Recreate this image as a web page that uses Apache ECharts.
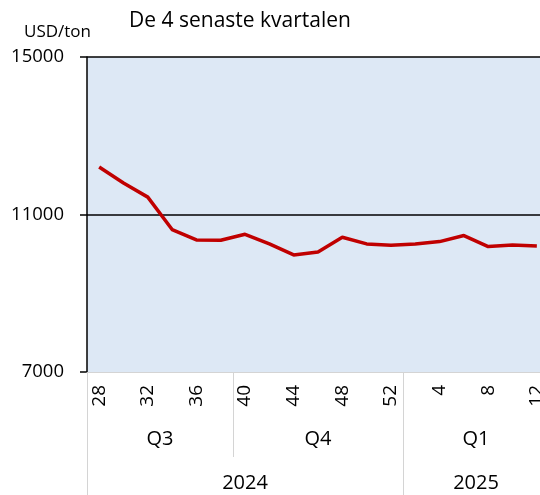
<!DOCTYPE html>
<html><head><meta charset="utf-8">
<script src="https://cdn.jsdelivr.net/npm/echarts@6/dist/echarts.min.js"></script>
<style>html,body{margin:0;padding:0;overflow:hidden;background:#fff;width:540px;height:495px}#c{width:550px;height:495px}</style>
</head><body><div id="c"></div>
<script>
var weeks = ['28','30','32','34','36','38','40','42','44','46','48','50','52','2','4','6','8','10','12'];
var quarters = ['Q3','Q3','Q3','Q3','Q3','Q3','Q4','Q4','Q4','Q4','Q4','Q4','Q4','Q1','Q1','Q1','Q1','Q1','Q1'];
var years = ['2024','2024','2024','2024','2024','2024','2024','2024','2024','2024','2024','2024','2024','2025','2025','2025','2025','2025','2025'];
var prices = [12205,11798,11441,10618,10355,10346,10498,10253,9973,10050,10422,10253,10218,10253,10312,10465,10185,10228,10203];
var yTicks = [7000, 11000, 15000];

function groups(arr){
  var g=[],start=0;
  for(var i=1;i<=arr.length;i++){
    if(i===arr.length||arr[i]!==arr[start]){g.push({label:arr[start],start:start,end:i});start=i;}
  }
  return g;
}
var qg=groups(quarters), yg=groups(years);
var qCenters=qg.map(function(g){return (g.start+g.end)/2;});
var qBounds=qg.slice(1).map(function(g){return g.start;});
var yCenters=yg.map(function(g){return (g.start+g.end)/2;});
var yBounds=[0].concat(yg.slice(1).map(function(g){return g.start;}));
function lookup(groupsArr,centers){return function(v){for(var i=0;i<centers.length;i++){if(Math.abs(centers[i]-v)<1e-6)return groupsArr[i].label;}return '';};}

var FONT='Open Sans';
var chart=echarts.init(document.getElementById('c'));
chart.setOption({
  animation:false,
  textStyle:{fontFamily:FONT},
  title:[
    {text:'De 4 senaste kvartalen',left:124,top:6,textStyle:{fontSize:21,fontWeight:'normal',color:'#000',fontFamily:FONT}},
    {text:'USD/ton',left:19,top:19,textStyle:{fontSize:17,fontWeight:'normal',color:'#000',fontFamily:FONT}}
  ],
  grid:{left:87,top:57,width:462,height:315,show:true,backgroundColor:'#dde8f5',borderWidth:0},
  xAxis:[
    {type:'category',data:weeks,boundaryGap:true,position:'bottom',
     axisLine:{show:true,lineStyle:{color:'#d4d4d4',width:1}},
     axisTick:{show:false},
     axisLabel:{interval:1,rotate:90,margin:13,fontSize:19,color:'#000',fontFamily:FONT},
     splitLine:{show:false},z:3},
    {type:'value',min:0,max:weeks.length,position:'bottom',
     axisLine:{show:false},splitLine:{show:false},
     axisTick:{show:true,customValues:qBounds,length:85,lineStyle:{color:'#d4d4d4',width:1}},
     axisLabel:{customValues:qCenters,formatter:lookup(qg,qCenters),margin:57,fontSize:20,color:'#000',fontFamily:FONT}},
    {type:'value',min:0,max:weeks.length,position:'bottom',
     axisLine:{show:false},splitLine:{show:false},
     axisTick:{show:true,customValues:yBounds,length:130,lineStyle:{color:'#d4d4d4',width:1}},
     axisLabel:{customValues:yCenters,formatter:lookup(yg,yCenters),margin:101,fontSize:20,color:'#000',fontFamily:FONT}}
  ],
  yAxis:{type:'value',min:yTicks[0],max:yTicks[yTicks.length-1],interval:yTicks[1]-yTicks[0],
    axisLine:{show:true,lineStyle:{color:'#000',width:1.5}},
    axisTick:{show:true,length:7,lineStyle:{color:'#000',width:1.5}},
    axisLabel:{fontSize:18.5,color:'#000',margin:23,fontFamily:FONT,formatter:function(v){return String(v);}},
    splitLine:{show:true,lineStyle:{color:['rgba(0,0,0,0)','#000','#000'],width:1.5}}},
  series:[{type:'line',data:prices,xAxisIndex:0,showSymbol:false,symbol:'none',
    lineStyle:{color:'#c00000',width:3.5},z:5}]
});
</script></body></html>
